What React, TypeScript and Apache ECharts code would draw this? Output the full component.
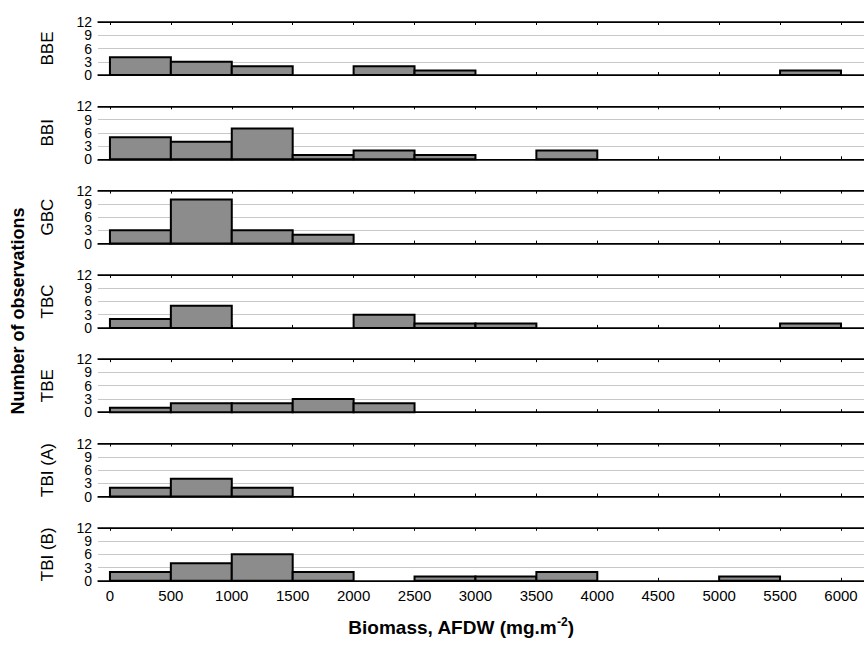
import React, { useEffect, useRef } from "react";
import * as echarts from "echarts";

const panelNames = ["BBE", "BBI", "GBC", "TBC", "TBE", "TBI (A)", "TBI (B)"];
const binStarts = [0, 500, 1000, 1500, 2000, 2500, 3000, 3500, 4000, 4500, 5000, 5500];
const binWidth = 500;
// counts per 500-wide bin, 0–6000
const countsBBE = [4, 3, 2, 0, 2, 1, 0, 0, 0, 0, 0, 1];
const countsBBI = [5, 4, 7, 1, 2, 1, 0, 2, 0, 0, 0, 0];
const countsGBC = [3, 10, 3, 2, 0, 0, 0, 0, 0, 0, 0, 0];
const countsTBC = [2, 5, 0, 0, 3, 1, 1, 0, 0, 0, 0, 1];
const countsTBE = [1, 2, 2, 3, 2, 0, 0, 0, 0, 0, 0, 0];
const countsTBIA = [2, 4, 2, 0, 0, 0, 0, 0, 0, 0, 0, 0];
const countsTBIB = [2, 4, 6, 2, 0, 1, 1, 2, 0, 0, 1, 0];
const allCounts = [countsBBE, countsBBI, countsGBC, countsTBC, countsTBE, countsTBIA, countsTBIB];
const xTicks = [0, 500, 1000, 1500, 2000, 2500, 3000, 3500, 4000, 4500, 5000, 5500, 6000];
const yTicksEven = [0, 6, 12];
const yTicksOdd = [3, 9];
const xTitle = "Biomass, AFDW (mg.m";
const yTitle = "Number of observations";

export default function App() {
  const ref = useRef<HTMLDivElement>(null);
  useEffect(() => {
    const chart = echarts.init(ref.current!, null, { renderer: "svg" });
    const n = panelNames.length;
    const top0 = 22;
    const step = 84.3;
    const h = 53;
    const grids: any[] = [];
    const xAxes: any[] = [];
    const yAxes: any[] = [];
    const series: any[] = [];
    const graphics: any[] = [];
    const font = "'Liberation Sans', Arial, sans-serif";
    for (let i = 0; i < n; i++) {
      const top = top0 + i * step;
      grids.push({ left: 98, width: 768, top, height: h });
      const isLast = i === n - 1;
      xAxes.push({
        type: "value", gridIndex: i, min: -98, max: 6189, position: "bottom",
        axisLine: { show: true, lineStyle: { color: "#000", width: 1.5 } },
        axisTick: { show: true, inside: true, length: 3, customValues: xTicks, lineStyle: { color: "#000" } },
        axisLabel: {
          show: isLast, customValues: xTicks, fontSize: 15, color: "#000", fontFamily: font, margin: 7,
          formatter: (v: number) => String(v),
        },
        splitLine: { show: false },
      });
      xAxes.push({
        type: "value", gridIndex: i, min: -98, max: 6189, position: "top",
        axisLine: { show: true, onZero: false, lineStyle: { color: "#000", width: 1.5 } },
        axisTick: { show: true, inside: true, length: 3, customValues: xTicks, lineStyle: { color: "#000" } },
        axisLabel: { show: false },
        splitLine: { show: false },
      });
      const labelStyle = {
        showMinLabel: true, showMaxLabel: true, hideOverlap: false,
        fontSize: 14, color: "#000", fontFamily: font, margin: 6,
      };
      yAxes.push({
        type: "value", gridIndex: i, min: 0, max: 12, interval: 3, position: "left",
        axisLine: { show: false }, axisTick: { show: false },
        axisLabel: { ...labelStyle, customValues: yTicksEven },
        splitLine: { show: true, lineStyle: { color: ["#000", "#c8c8c8", "#c8c8c8", "#c8c8c8", "#000"], width: 1 } },
      });
      yAxes.push({
        type: "value", gridIndex: i, min: 0, max: 12, interval: 3, position: "left", offset: 0,
        axisLine: { show: false }, axisTick: { show: false },
        axisLabel: { ...labelStyle, customValues: yTicksOdd },
        splitLine: { show: false },
      });
      const data: any[] = [];
      allCounts[i].forEach((c, k) => {
        if (c > 0) data.push([binStarts[k], binStarts[k] + binWidth, c]);
      });
      series.push({
        type: "custom", xAxisIndex: i * 2, yAxisIndex: i * 2, data,
        renderItem: (params: any, api: any) => {
          const p0 = api.coord([api.value(0), 0]);
          const p1 = api.coord([api.value(1), api.value(2)]);
          return {
            type: "rect",
            shape: { x: p0[0], y: p1[1], width: p1[0] - p0[0], height: p0[1] - p1[1] },
            style: { fill: "#8c8c8c", stroke: "#000", lineWidth: 2 },
          };
        },
      });
      graphics.push({
        type: "text", x: 47, y: top + h / 2, rotation: Math.PI / 2,
        style: { text: panelNames[i], font: `17px ${font}`, fill: "#000", align: "center", verticalAlign: "middle" },
      });
    }
    graphics.push({
      type: "text", x: 18, y: 311, rotation: Math.PI / 2,
      style: { text: yTitle, font: `bold 18px ${font}`, fill: "#000", align: "center", verticalAlign: "middle" },
    });
    graphics.push({
      type: "text", x: 461, y: 627,
      style: {
        text: `{b|${xTitle}}{s|-2}{b|)}`,
        align: "center", verticalAlign: "middle",
        rich: {
          b: { fontFamily: font, fontWeight: "bold", fontSize: 19, color: "#000" },
          s: { fontFamily: font, fontWeight: "bold", fontSize: 12, color: "#000", padding: [0, 0, 10, 0] },
        },
      },
    });
    chart.setOption({
      animation: false,
      backgroundColor: "#fff",
      grid: grids,
      xAxis: xAxes,
      yAxis: yAxes,
      series,
      graphic: graphics,
    });
    return () => chart.dispose();
  }, []);
  return <div ref={ref} style={{ width: 864, height: 648, position: "absolute", left: 0, top: 0 }} />;
}
